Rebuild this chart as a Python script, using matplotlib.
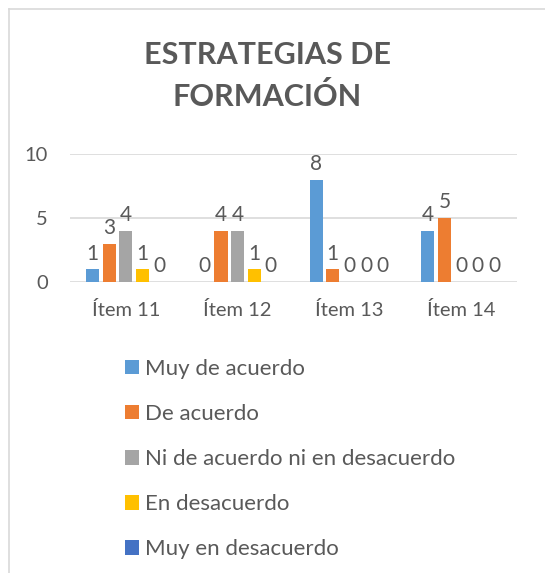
import matplotlib
matplotlib.use("Agg")
import matplotlib.pyplot as plt
from matplotlib.lines import Line2D
import numpy as np

categories = ["Ítem 11", "Ítem 12", "Ítem 13", "Ítem 14"]
series_names = ["Muy de acuerdo", "De acuerdo", "Ni de acuerdo ni en desacuerdo",
                "En desacuerdo", "Muy en desacuerdo"]
muy_de_acuerdo = [1, 0, 8, 4]
de_acuerdo = [3, 4, 1, 5]
ni_ni = [4, 4, 0, 0]
en_desacuerdo = [1, 1, 0, 0]
muy_en_desacuerdo = [0, 0, 0, 0]
series_values = [muy_de_acuerdo, de_acuerdo, ni_ni, en_desacuerdo, muy_en_desacuerdo]
colors = ["#5B9BD5", "#ED7D31", "#A5A5A5", "#FFC000", "#4472C4"]
yticks = [0, 5, 10]
title = "ESTRATEGIAS DE\nFORMACIÓN"

TXT = "#595959"
GRID = "#D9D9D9"
plt.rcParams['font.family'] = ['Lato', 'DejaVu Sans']

W, H = 545, 573
fig = plt.figure(figsize=(W / 100, H / 100), dpi=100)
ax = fig.add_axes([70 / W, 1 - 282 / H, (517 - 70) / W, (282 - 154) / H])

x = np.arange(len(categories))
slot = 0.149
bw = 0.117
n = len(series_values)
bars = []
for i, (vals, c) in enumerate(zip(series_values, colors)):
    off = (i - (n - 1) / 2) * slot
    b = ax.bar(x + off, vals, width=bw, color=c, zorder=3, label=series_names[i])
    bars.append(b)
    for xi, v in zip(x + off, vals):
        ax.annotate(str(v), (xi, v), xytext=(0, 4), textcoords="offset points",
                    ha="center", va="bottom", fontsize=15, color=TXT,
                    annotation_clip=False)

ax.set_xlim(-0.5, len(categories) - 0.5)
ax.set_ylim(0, 10)
ax.set_yticks(yticks)
ax.set_xticks(x)
ax.set_xticklabels(categories)
ax.tick_params(axis="both", length=0, labelsize=14.5, colors=TXT)
ax.tick_params(axis="y", pad=16)
ax.tick_params(axis="x", pad=14)
ax.grid(axis="y", color=GRID, linewidth=1.2, zorder=0)
for s in ax.spines.values():
    s.set_visible(False)

fig.text(267 / W, 1 - 76 / H, title, ha="center", va="center", fontsize=22,
         fontweight="bold", color=TXT, linespacing=1.55)

leg = fig.legend(handles=bars, labels=series_names, loc="upper left",
                 bbox_to_anchor=(116 / W, 1 - 350 / H), frameon=False,
                 fontsize=16, labelcolor=TXT, handlelength=0.63, handleheight=0.63,
                 handletextpad=0.27, labelspacing=1.13, borderaxespad=0)

fig.add_artist(Line2D([9 / W, 9 / W], [0, 1 - 9 / H], transform=fig.transFigure,
                      color=GRID, linewidth=1.2))
fig.add_artist(Line2D([9 / W, 1], [1 - 9 / H, 1 - 9 / H], transform=fig.transFigure,
                      color=GRID, linewidth=1.2))

fig.savefig("out.png", dpi=100)
